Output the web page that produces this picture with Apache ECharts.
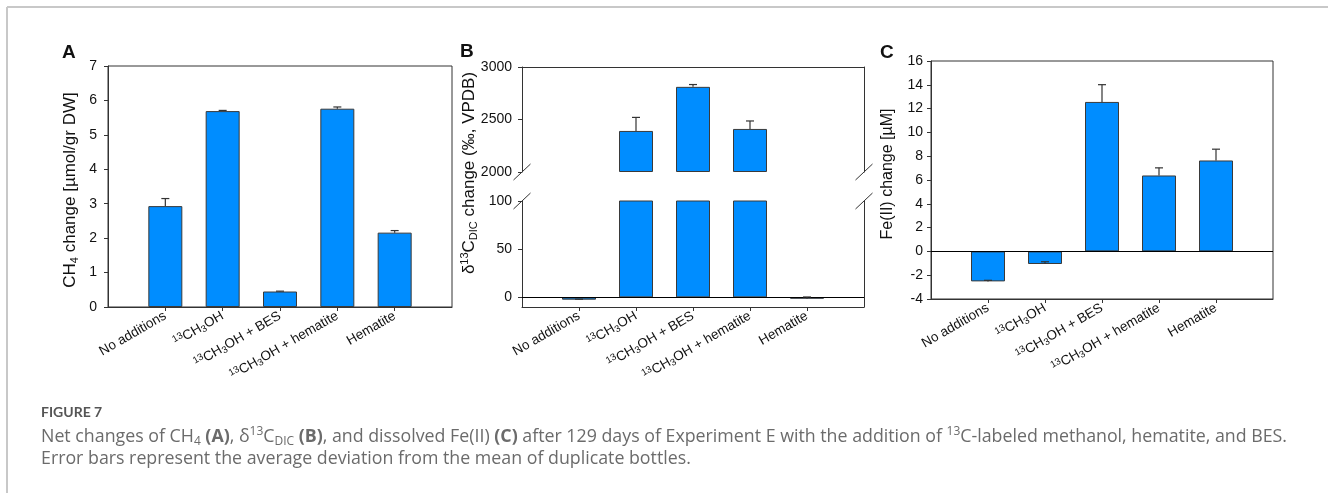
<!DOCTYPE html>
<html>
<head>
<meta charset="utf-8">
<script src="https://cdn.jsdelivr.net/npm/echarts@6/dist/echarts.min.js"></script>
<style>
html,body{margin:0;padding:0;background:#fff;}
#chart{width:1328px;height:493px;}
</style>
</head>
<body>
<div id="chart"></div>
<script>
// ---- data ----
const categories = ['No additions', '13CH3OH', '13CH3OH + BES', '13CH3OH + hematite', 'Hematite'];
const ch4Values = [2.93, 5.69, 0.45, 5.76, 2.16];
const ch4Errors = [0.22, 0.02, 0.01, 0.05, 0.06];
const d13cValues = [-2.4, 2391, 2811, 2410, -1.4];
const d13cErrors = [0.5, 129, 22, 76, 1.8];
const fe2Values = [-2.52, -1.06, 12.56, 6.38, 7.64];
const fe2Errors = [0.09, 0.19, 1.45, 0.64, 0.95];
const ch4Ticks = [0, 1, 2, 3, 4, 5, 6, 7];
const d13cUpperTicks = [2000, 2500, 3000];
const d13cLowerTicks = [0, 50, 100];
const fe2Ticks = [-4, -2, 0, 2, 4, 6, 8, 10, 12, 14, 16];

// ---- layout ----
const FONT = '"Liberation Sans", Arial, sans-serif';
const CAPFONT = '"Open Sans", Lato, sans-serif';
const BAR = '#008dff';
const DARK = '#333';
const TXT = '#111';
const slots = [''].concat(categories).concat(['']);
const G_A = {left: 108, top: 66, width: 344, height: 241};
const G_BU = {left: 522, top: 67, width: 342, height: 105};
const G_BL = {left: 522, top: 201, width: 342, height: 106};
const G_C = {left: 931, top: 61, width: 342, height: 238};

function richCat(s) {
  return s.replace('13CH3OH', '{sup|13}CH{sub|3}OH');
}
const catRich = {
  sup: {fontSize: 9.5, fontFamily: FONT, color: TXT, verticalAlign: 'top', lineHeight: 9},
  sub: {fontSize: 9.5, fontFamily: FONT, color: TXT, verticalAlign: 'bottom', lineHeight: 9}
};

function xCat(gridIndex, showLabels, position) {
  return {
    type: 'category', gridIndex: gridIndex, data: slots, boundaryGap: false,
    position: position || 'bottom',
    axisLine: {show: true, onZero: false, lineStyle: {color: DARK, width: 1}},
    axisTick: {show: showLabels, length: 4, interval: function (i, v) { return v !== ''; }, lineStyle: {color: DARK}},
    axisLabel: showLabels ? {
      show: true, interval: 0, rotate: 30, margin: 8, fontSize: 13.5, fontFamily: FONT, color: TXT,
      lineHeight: 16, formatter: richCat, rich: catRich
    } : {show: false},
    splitLine: {show: false}
  };
}
function yVal(gridIndex, min, max, ticks, margin, opts) {
  opts = opts || {};
  return Object.assign({
    type: 'value', gridIndex: gridIndex, min: min, max: max,
    axisLine: {show: true, onZero: false, lineStyle: {color: DARK, width: 1}},
    axisTick: {show: true, length: 4, customValues: ticks, lineStyle: {color: DARK}},
    axisLabel: {show: true, customValues: ticks, margin: margin, fontSize: 14, fontFamily: FONT, color: TXT,
      formatter: function (v) { return String(v); }},
    splitLine: {show: false}
  }, opts);
}
function yRight(gridIndex, min, max) {
  return {
    type: 'value', gridIndex: gridIndex, min: min, max: max, position: 'right',
    axisLine: {show: true, onZero: false, lineStyle: {color: DARK, width: 1}},
    axisTick: {show: false}, axisLabel: {show: false}, splitLine: {show: false}
  };
}
function barData(vals, keep) {
  return [null].concat(vals.map(function (v) { return keep(v) ? v : null; })).concat([null]);
}
function errData(vals, errs) {
  return vals.map(function (v, i) { return [i + 1, v, errs[i]]; });
}
function errRender(params, api) {
  const x = api.value(0), v = api.value(1), e = api.value(2);
  const p0 = api.coord([x, v]);
  const p1 = api.coord([x, v + e]);
  const cs = params.coordSys;
  if (p1[1] < cs.y - 0.5 || p0[1] > cs.y + cs.height + 0.5) return null;
  const hw = 4;
  const st = {stroke: '#333', lineWidth: 1.2};
  return {type: 'group', children: [
    {type: 'line', shape: {x1: p0[0], y1: p0[1], x2: p1[0], y2: p1[1]}, style: st},
    {type: 'line', shape: {x1: p1[0] - hw, y1: p1[1], x2: p1[0] + hw, y2: p1[1]}, style: st}
  ]};
}
function barSeries(xi, yi, data, zero) {
  const s = {
    type: 'bar', xAxisIndex: xi, yAxisIndex: yi, data: data, barWidth: 34, clip: true,
    itemStyle: {color: BAR, borderColor: '#3a3a3a', borderWidth: 1}, silent: true, animation: false
  };
  if (zero) {
    s.markLine = {silent: true, symbol: ['none', 'none'], animation: false, label: {show: false},
      lineStyle: {color: '#000', width: 1, type: 'solid'}, data: [{yAxis: 0}]};
  }
  return s;
}
function errSeries(xi, yi, data) {
  return {type: 'custom', xAxisIndex: xi, yAxisIndex: yi, data: data, renderItem: errRender,
    silent: true, animation: false, z: 5};
}

const titleStyle = function (size) {
  return {fontSize: size, fontFamily: FONT, fill: TXT, align: 'center', verticalAlign: 'middle'};
};

function breakMarks() {
  const out = [];
  const xs = [G_BU.left, G_BU.left + G_BU.width];
  const ys = [G_BU.top + G_BU.height, G_BL.top];
  xs.forEach(function (x) {
    ys.forEach(function (y) {
      out.push({type: 'line', shape: {x1: x - 8.5, y1: y + 8, x2: x + 8.5, y2: y - 8},
        style: {stroke: '#333', lineWidth: 1}, z: 10});
    });
  });
  return out;
}

const CAPCOL = '#6b6b6b';
const CAPSIZE = 17.8;
const capRich = {
  sub: {fontSize: 12, fontFamily: CAPFONT, fill: CAPCOL, verticalAlign: 'bottom', lineHeight: 12},
  sup: {fontSize: 12, fontFamily: CAPFONT, fill: CAPCOL, verticalAlign: 'top', lineHeight: 12},
  b: {fontSize: CAPSIZE, fontWeight: 'bold', fontFamily: CAPFONT, fill: CAPCOL, lineHeight: 22}
};

const option = {
  backgroundColor: '#fff',
  animation: false,
  textStyle: {fontFamily: FONT},
  grid: [
    Object.assign({show: true, borderColor: DARK, borderWidth: 1, backgroundColor: 'transparent'}, G_A),
    Object.assign({}, G_BU),
    Object.assign({}, G_BL),
    Object.assign({show: true, borderColor: DARK, borderWidth: 1, backgroundColor: 'transparent'}, G_C)
  ],
  xAxis: [
    xCat(0, true),
    xCat(1, false, 'top'),
    xCat(2, true),
    xCat(3, true)
  ],
  yAxis: [
    yVal(0, 0, 7, ch4Ticks, 11),
    yVal(1, 2000, 3000, d13cUpperTicks, 10, {startValue: 2000}),
    yVal(2, -10, 100, d13cLowerTicks, 10),
    yVal(3, -4, 16, fe2Ticks, 8),
    yRight(1, 2000, 3000),
    yRight(2, -10, 100)
  ],
  series: [
    barSeries(0, 0, barData(ch4Values, function () { return true; }), false),
    errSeries(0, 0, errData(ch4Values, ch4Errors)),
    barSeries(1, 1, barData(d13cValues, function (v) { return v >= d13cUpperTicks[0]; }), false),
    errSeries(1, 1, errData(d13cValues, d13cErrors)),
    barSeries(2, 2, barData(d13cValues, function () { return true; }), true),
    errSeries(2, 2, errData(d13cValues, d13cErrors)),
    barSeries(3, 3, barData(fe2Values, function () { return true; }), true),
    errSeries(3, 3, errData(fe2Values, fe2Errors))
  ],
  graphic: [
    {type: 'line', shape: {x1: 7, y1: 7, x2: 1328, y2: 7}, style: {stroke: '#c8c8c8', lineWidth: 2}},
    {type: 'line', shape: {x1: 7, y1: 7, x2: 7, y2: 493}, style: {stroke: '#c8c8c8', lineWidth: 2}},
    {type: 'text', x: 62, y: 53, style: {text: 'A', fontSize: 19, fontWeight: 'bold', fontFamily: FONT, fill: TXT, verticalAlign: 'middle'}},
    {type: 'text', x: 460, y: 51.5, style: {text: 'B', fontSize: 19, fontWeight: 'bold', fontFamily: FONT, fill: TXT, verticalAlign: 'middle'}},
    {type: 'text', x: 880, y: 53, style: {text: 'C', fontSize: 19, fontWeight: 'bold', fontFamily: FONT, fill: TXT, verticalAlign: 'middle'}},
    {type: 'text', x: 70, y: 190, rotation: Math.PI / 2,
      style: Object.assign(titleStyle(17), {text: 'CH{sub|4} change [µmol/gr DW]', lineHeight: 20,
        rich: {sub: {fontSize: 11, fontFamily: FONT, fill: TXT, verticalAlign: 'bottom', lineHeight: 11}}})},
    {type: 'text', x: 469, y: 173, rotation: Math.PI / 2,
      style: Object.assign(titleStyle(17), {text: 'δ{sup|13}C{sub|DIC} change (‰, VPDB)', lineHeight: 20,
        rich: {sup: {fontSize: 11, fontFamily: FONT, fill: TXT, verticalAlign: 'top', lineHeight: 11},
               sub: {fontSize: 11, fontFamily: FONT, fill: TXT, verticalAlign: 'bottom', lineHeight: 11}}})},
    {type: 'text', x: 888, y: 174, rotation: Math.PI / 2,
      style: Object.assign(titleStyle(16), {text: 'Fe(II) change [µM]'})},
    {type: 'text', x: 41, y: 412, style: {text: 'FIGURE 7', fontSize: 14, fontWeight: 'bold', fontFamily: 'Lato, sans-serif', fill: '#555', verticalAlign: 'middle'}},
    {type: 'text', x: 41, y: 437, style: {
      text: 'Net changes of CH{sub|4} {b|(A)}, δ{sup|13}C{sub|DIC} {b|(B)}, and dissolved Fe(II) {b|(C)} after 129 days of Experiment E with the addition of {sup|13}C-labeled methanol, hematite, and BES.',
      fontSize: CAPSIZE, fontFamily: CAPFONT, fill: CAPCOL, verticalAlign: 'middle', lineHeight: 22, rich: capRich}},
    {type: 'text', x: 41, y: 459, style: {
      text: 'Error bars represent the average deviation from the mean of duplicate bottles.',
      fontSize: CAPSIZE, fontFamily: CAPFONT, fill: CAPCOL, verticalAlign: 'middle'}}
  ].concat(breakMarks())
};

const chart = echarts.init(document.getElementById('chart'), null, {renderer: 'canvas'});
chart.setOption(option);
</script>
</body>
</html>
